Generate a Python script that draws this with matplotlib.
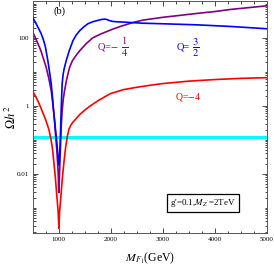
import matplotlib
matplotlib.use('Agg')
import matplotlib.pyplot as plt
from matplotlib.ticker import FixedLocator, LogLocator, NullFormatter

plt.rcParams['font.family'] = ['Liberation Serif', 'DejaVu Serif']
plt.rcParams['mathtext.fontset'] = 'stix'

# Q = -4 (red)
red_m = [500, 550, 600, 650, 700, 750, 808, 850, 880, 904, 935, 962, 985,
         1000, 1015, 1038, 1065, 1096, 1130, 1160, 1192, 1230, 1270, 1327,
         1400, 1500, 1600, 1750, 1900, 2000, 2250, 2500, 2750, 3000, 3500,
         4000, 4500, 5000]
red_y = [2.6, 1.9, 1.35, 0.9, 0.58, 0.37, 0.2, 0.1, 0.05, 0.021, 0.007,
         0.0021, 0.0008, 0.00025, 0.0008, 0.0021, 0.007, 0.021, 0.06, 0.12,
         0.2, 0.27, 0.33, 0.41, 0.55, 0.75, 0.98, 1.4, 1.9, 2.3, 3.0, 3.5,
         4.0, 4.5, 5.3, 5.9, 6.4, 6.7]

# Q = 3/2 (blue)
blue_m = [500, 540, 580, 620, 660, 700, 740, 788, 820, 853, 875, 898, 920,
          945, 962, 985, 1000, 1012, 1025, 1035, 1044, 1053, 1063, 1080, 1100,
          1140, 1200, 1269, 1330, 1398, 1480, 1558, 1650, 1750, 1820, 1879,
          1920, 1960, 2038, 2130, 2231, 2400, 2615, 3000, 3654, 4300, 5000]
blue_y = [388, 300, 230, 175, 131, 90, 55, 21, 10, 4.4, 1.9, 0.71, 0.35,
          0.14, 0.08, 0.03, 0.018, 0.03, 0.08, 0.25, 0.71, 1.8, 4.4, 8, 12,
          21, 42, 81, 118, 160, 210, 258, 295, 325, 345, 354, 345, 325, 302,
          294, 290, 280, 268, 258, 240, 215, 184]

# Q = -1/4 (purple)
purp_m = [500, 530, 560, 595, 628, 660, 690, 720, 756, 800, 830, 853, 875,
          898, 920, 940, 962, 985, 1000, 1015, 1030, 1045, 1063, 1085, 1109,
          1150, 1205, 1260, 1330, 1398, 1520, 1654, 1800, 2038, 2200, 2423,
          2615, 3000, 3300, 3654, 4000, 4300, 4650, 5000]
purp_y = [143, 115, 90, 68, 52, 39, 28, 20, 13.4, 7, 4.2, 2.76, 1.5, 0.71,
          0.3, 0.12, 0.045, 0.012, 0.0028, 0.012, 0.06, 0.25, 0.71, 1.6, 2.76,
          6, 13.4, 21, 30, 41, 66, 100, 128, 180, 220, 280, 330, 400, 450,
          520, 590, 680, 770, 870]

omega_planck = 0.12

fig = plt.figure(figsize=(2.74, 2.67), dpi=100)
ax = fig.add_axes([0.120, 0.127, 0.854, 0.869])

ax.axhline(omega_planck, color='#00ffff', lw=2.2, zorder=1)
ax.plot(purp_m, purp_y, color='#800080', lw=1.2, zorder=2)
ax.plot(blue_m, blue_y, color='#0000ff', lw=1.2, zorder=3)
ax.plot(red_m, red_y, color='#ff0000', lw=1.2, zorder=4)

ax.set_yscale('log')
ax.set_xlim(500, 5000)
ax.set_ylim(1.8e-4, 1200)

ax.xaxis.set_major_locator(FixedLocator([1000, 2000, 3000, 4000, 5000]))
ax.xaxis.set_minor_locator(FixedLocator(list(range(500, 5001, 250))))
ax.yaxis.set_major_locator(FixedLocator([0.01, 1, 100]))
ax.yaxis.set_minor_locator(LogLocator(base=10, subs=range(1, 10), numticks=30))
ax.yaxis.set_minor_formatter(NullFormatter())
ax.set_yticklabels(['0.01', '1', '100'])

ax.tick_params(which='both', direction='in', top=True, right=True,
               labelsize=5, pad=3, width=0.5)
ax.tick_params(which='major', length=3.5)
ax.tick_params(which='minor', length=1.8)
for s in ax.spines.values():
    s.set_linewidth(0.7)
    s.set_color('#555555')

ax.set_xlabel(r'$M_{F_1}$(GeV)', fontsize=8.5)
ax.xaxis.set_label_coords(0.5, -0.075)
ax.set_ylabel(r'$\Omega h^2$', fontsize=9)
ax.yaxis.set_label_coords(-0.06, 0.5)

ax.text(1019, 620, '(b)', fontsize=7.5, ha='center', va='center')
ax.text(1731, 52, r'Q=$-$', color='#800080', fontsize=7.5,
        ha='left', va='center')
ax.text(2260, 52, r'$\frac{1}{4}$', color='#800080', fontsize=11,
        ha='center', va='center')
ax.text(3269, 52, 'Q=', color='#0000ff', fontsize=7.5,
        ha='left', va='center')
ax.text(3640, 52, r'$\frac{3}{2}$', color='#0000ff', fontsize=11,
        ha='center', va='center')
ax.text(3230, 1.84, r'Q=$-$4', color='#ff0000', fontsize=7,
        ha='left', va='center')
ax.text(3770, 0.0014, r"g'=0.1,$M_{Z'}$=2TeV", fontsize=6.5, ha='center',
        va='center',
        bbox=dict(boxstyle='square,pad=0.35', fc='white', ec='black', lw=0.9))

fig.savefig('out.png', dpi=100, facecolor='white')
